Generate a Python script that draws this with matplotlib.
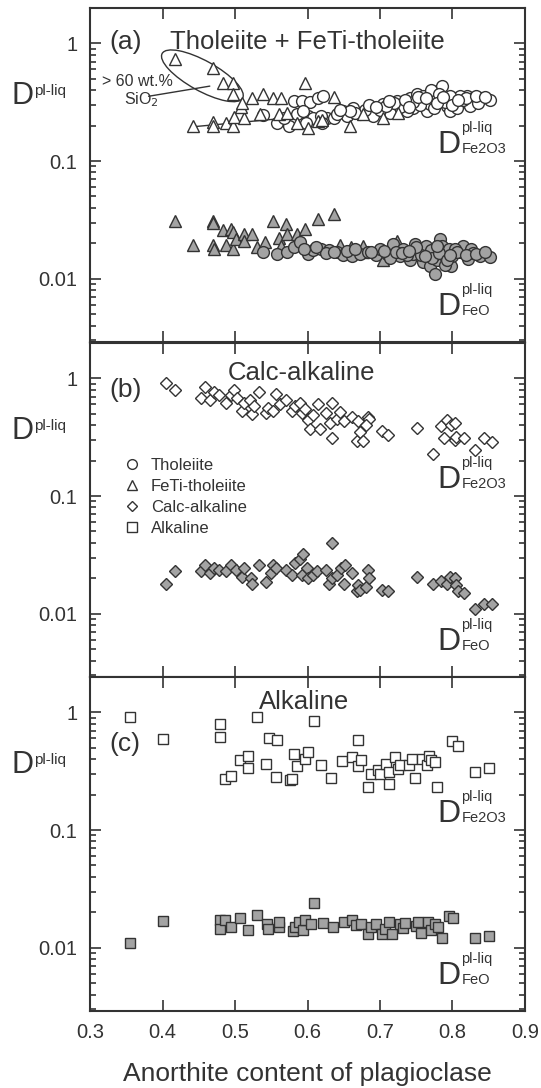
# Plagioclase-melt partition coefficients for Fe2O3 and FeO vs anorthite content
import matplotlib
matplotlib.use("Agg")
import matplotlib.pyplot as plt
import matplotlib.transforms as mtransforms
from matplotlib.patches import Ellipse
from matplotlib.lines import Line2D
from matplotlib.ticker import FixedLocator, FixedFormatter, LogLocator, NullFormatter

plt.rcParams['font.family'] = ['Liberation Sans', 'DejaVu Sans']

# ---- panel (a): tholeiite + FeTi-tholeiite ----
tho_fe2o3_x = [0.538, 0.558, 0.575, 0.581, 0.593, 0.603, 0.614, 0.622, 0.586, 0.601, 0.608, 0.627,
               0.649, 0.663, 0.655, 0.673, 0.691, 0.704, 0.718, 0.724, 0.732, 0.742, 0.751, 0.746,
               0.760, 0.765, 0.773, 0.780, 0.785, 0.783, 0.792, 0.797, 0.803, 0.810, 0.820, 0.828,
               0.840, 0.852, 0.824, 0.806, 0.691, 0.714, 0.737, 0.769, 0.636, 0.618, 0.594, 0.700,
               0.728, 0.755, 0.775, 0.790, 0.815, 0.835, 0.760, 0.745, 0.680, 0.665, 0.640, 0.620,
               0.598, 0.568, 0.770, 0.782, 0.810, 0.797, 0.720, 0.685, 0.708, 0.735, 0.752, 0.778,
               0.800, 0.818, 0.832, 0.845, 0.658, 0.645, 0.695, 0.712, 0.740, 0.763, 0.787, 0.807]
tho_fe2o3_y = [0.247, 0.21, 0.20, 0.326, 0.326, 0.32, 0.345, 0.36, 0.25, 0.24, 0.23, 0.233,
               0.268, 0.28, 0.24, 0.25, 0.28, 0.306, 0.284, 0.326, 0.306, 0.345, 0.373, 0.284,
               0.326, 0.268, 0.345, 0.397, 0.437, 0.326, 0.295, 0.268, 0.345, 0.313, 0.36, 0.34,
               0.34, 0.33, 0.295, 0.284, 0.24, 0.257, 0.268, 0.306, 0.233, 0.24, 0.268, 0.27,
               0.29, 0.30, 0.28, 0.32, 0.33, 0.31, 0.36, 0.32, 0.27, 0.255, 0.25, 0.21,
               0.21, 0.23, 0.40, 0.37, 0.36, 0.36, 0.31, 0.30, 0.295, 0.33, 0.35, 0.31,
               0.30, 0.345, 0.355, 0.35, 0.265, 0.27, 0.29, 0.325, 0.29, 0.34, 0.35, 0.33]

feti_fe2o3_x = [0.442, 0.469, 0.470, 0.488, 0.497, 0.498, 0.512, 0.508, 0.523, 0.510, 0.539, 0.553,
                0.563, 0.597, 0.560, 0.572, 0.600, 0.614, 0.636, 0.659, 0.704, 0.677, 0.725, 0.534,
                0.620, 0.585]
feti_fe2o3_y = [0.20, 0.215, 0.20, 0.21, 0.20, 0.238, 0.233, 0.29, 0.34, 0.31, 0.37, 0.34,
                0.34, 0.46, 0.25, 0.257, 0.19, 0.22, 0.35, 0.20, 0.233, 0.25, 0.257, 0.25,
                0.225, 0.21]
# high-SiO2 (> 60 wt.%) FeTi-tholeiite samples
hisi_fe2o3_x = [0.417, 0.469, 0.484, 0.497, 0.497]
hisi_fe2o3_y = [0.73, 0.62, 0.46, 0.46, 0.37]

feti_feo_x = [0.417, 0.442, 0.469, 0.470, 0.470, 0.471, 0.484, 0.488, 0.495, 0.497, 0.497, 0.501,
              0.512, 0.512, 0.523, 0.531, 0.541, 0.553, 0.560, 0.563, 0.570, 0.572, 0.585, 0.596,
              0.614, 0.637, 0.645, 0.660, 0.677, 0.704, 0.724, 0.677]
feti_feo_y = [0.0307, 0.0195, 0.031, 0.030, 0.0195, 0.018, 0.0257, 0.0195, 0.0267, 0.025, 0.018, 0.0216,
              0.0238, 0.021, 0.0238, 0.0187, 0.0207, 0.031, 0.022, 0.019, 0.029, 0.0238, 0.0238, 0.0267,
              0.032, 0.0352, 0.0195, 0.0185, 0.017, 0.0145, 0.021, 0.0188]

tho_feo_x = [0.538, 0.558, 0.572, 0.581, 0.590, 0.601, 0.608, 0.618, 0.630, 0.641, 0.649, 0.661,
             0.673, 0.683, 0.694, 0.700, 0.710, 0.718, 0.727, 0.732, 0.742, 0.748, 0.753, 0.760,
             0.765, 0.769, 0.776, 0.779, 0.783, 0.785, 0.788, 0.795, 0.798, 0.800, 0.810, 0.815,
             0.822, 0.825, 0.838, 0.852, 0.763, 0.745, 0.714, 0.737, 0.774, 0.790, 0.803, 0.828,
             0.595, 0.625, 0.655, 0.688, 0.722, 0.757, 0.770, 0.612, 0.636, 0.666, 0.705, 0.730,
             0.750, 0.772, 0.781, 0.793, 0.806, 0.818, 0.833, 0.845, 0.740, 0.762, 0.778, 0.796]
tho_feo_y = [0.017, 0.0163, 0.017, 0.0187, 0.0207, 0.0163, 0.0175, 0.018, 0.0175, 0.017, 0.016, 0.0155,
             0.0163, 0.017, 0.016, 0.018, 0.0163, 0.0199, 0.0155, 0.018, 0.0145, 0.0199, 0.0175, 0.0139,
             0.017, 0.0127, 0.0110, 0.0145, 0.0216, 0.019, 0.016, 0.018, 0.0127, 0.0155, 0.017, 0.019,
             0.0148, 0.0178, 0.0155, 0.0152, 0.019, 0.0163, 0.015, 0.016, 0.016, 0.013, 0.018, 0.0165,
             0.018, 0.0165, 0.0172, 0.0168, 0.017, 0.0158, 0.0175, 0.0185, 0.0168, 0.0178, 0.0172, 0.0165,
             0.0185, 0.0150, 0.0165, 0.0145, 0.0168, 0.0158, 0.0162, 0.0170, 0.0172, 0.0155, 0.0190, 0.0160]

# trend line through the panel (a) Fe2O3 data, as drawn in the figure
trend_x = [0.44, 0.85]
trend_y = [0.195, 0.335]

# ---- panel (b): calc-alkaline ----
ca_x = [0.405, 0.417, 0.453, 0.458, 0.465, 0.471, 0.478, 0.488, 0.494, 0.498, 0.503, 0.510,
        0.513, 0.521, 0.524, 0.526, 0.533, 0.543, 0.545, 0.553, 0.556, 0.562, 0.571, 0.578,
        0.583, 0.589, 0.592, 0.596, 0.601, 0.604, 0.608, 0.614, 0.617, 0.626, 0.631, 0.634,
        0.634, 0.640, 0.645, 0.650, 0.661, 0.668, 0.670, 0.673, 0.677, 0.684, 0.685, 0.681,
        0.703, 0.711, 0.751, 0.773, 0.784, 0.788, 0.792, 0.798, 0.803, 0.803, 0.805, 0.816,
        0.831, 0.843, 0.855]
ca_fe2o3 = [0.905, 0.79, 0.675, 0.84, 0.66, 0.76, 0.72, 0.62, 0.72, 0.79, 0.68, 0.53,
            0.62, 0.65, 0.50, 0.58, 0.76, 0.51, 0.56, 0.53, 0.74, 0.61, 0.66, 0.53,
            0.58, 0.62, 0.51, 0.55, 0.44, 0.37, 0.49, 0.61, 0.37, 0.51, 0.42, 0.62,
            0.31, 0.45, 0.52, 0.43, 0.47, 0.295, 0.43, 0.35, 0.295, 0.47, 0.45, 0.40,
            0.36, 0.33, 0.38, 0.229, 0.39, 0.31, 0.44, 0.40, 0.42, 0.30, 0.32, 0.31,
            0.247, 0.31, 0.29]
ca_feo_x = [0.405, 0.417, 0.453, 0.458, 0.465, 0.471, 0.478, 0.488, 0.494, 0.502, 0.510, 0.513,
            0.522, 0.524, 0.533, 0.543, 0.549, 0.553, 0.556, 0.570, 0.578, 0.583, 0.589, 0.592,
            0.594, 0.599, 0.601, 0.608, 0.613, 0.626, 0.629, 0.634, 0.634, 0.640, 0.646, 0.652,
            0.650, 0.661, 0.668, 0.670, 0.673, 0.681, 0.684, 0.685, 0.703, 0.711, 0.751, 0.773,
            0.784, 0.792, 0.796, 0.803, 0.805, 0.808, 0.816, 0.831, 0.843, 0.855]
ca_feo = [0.018, 0.0229, 0.0229, 0.0257, 0.0222, 0.0243, 0.0236, 0.0229, 0.0257, 0.0236, 0.0207, 0.0243,
          0.020, 0.018, 0.0257, 0.0186, 0.0222, 0.0257, 0.0243, 0.0236, 0.0214, 0.027, 0.029, 0.0214,
          0.0319, 0.0243, 0.020, 0.0214, 0.023, 0.0236, 0.018, 0.0398, 0.020, 0.0214, 0.0243, 0.026,
          0.018, 0.0222, 0.0155, 0.0175, 0.016, 0.017, 0.0236, 0.020, 0.016, 0.0155, 0.0207, 0.018,
          0.019, 0.018, 0.0207, 0.020, 0.0175, 0.0155, 0.0150, 0.0110, 0.0122, 0.012]

# ---- panel (c): alkaline ----
alk_fe2o3_x = [0.355, 0.400, 0.479, 0.479, 0.530, 0.547, 0.558, 0.609, 0.670, 0.800, 0.808, 0.486,
               0.494, 0.507, 0.518, 0.518, 0.543, 0.557, 0.576, 0.579, 0.582, 0.586, 0.596, 0.601,
               0.619, 0.633, 0.648, 0.662, 0.669, 0.674, 0.684, 0.688, 0.697, 0.700, 0.708, 0.712,
               0.712, 0.721, 0.725, 0.728, 0.740, 0.744, 0.748, 0.758, 0.765, 0.767, 0.771, 0.776,
               0.778, 0.831, 0.851]
alk_fe2o3_y = [0.91, 0.59, 0.80, 0.62, 0.92, 0.60, 0.585, 0.85, 0.585, 0.57, 0.52, 0.273,
               0.29, 0.39, 0.43, 0.34, 0.365, 0.28, 0.265, 0.27, 0.44, 0.35, 0.40, 0.46,
               0.36, 0.275, 0.385, 0.42, 0.35, 0.39, 0.233, 0.30, 0.325, 0.30, 0.365, 0.31,
               0.246, 0.42, 0.33, 0.36, 0.36, 0.40, 0.275, 0.40, 0.355, 0.43, 0.39, 0.375,
               0.23, 0.31, 0.34]
alk_feo_x = [0.355, 0.400, 0.479, 0.479, 0.486, 0.494, 0.507, 0.518, 0.530, 0.544, 0.545, 0.560,
             0.561, 0.580, 0.583, 0.588, 0.594, 0.597, 0.605, 0.609, 0.622, 0.635, 0.650, 0.662,
             0.667, 0.674, 0.683, 0.688, 0.695, 0.703, 0.707, 0.712, 0.716, 0.727, 0.732, 0.735,
             0.749, 0.752, 0.757, 0.766, 0.770, 0.776, 0.780, 0.785, 0.795, 0.801, 0.831, 0.850]
alk_feo_y = [0.0110, 0.017, 0.0173, 0.0143, 0.0172, 0.015, 0.0178, 0.0142, 0.019, 0.016, 0.0143, 0.015,
             0.0165, 0.0139, 0.015, 0.0165, 0.0142, 0.0172, 0.016, 0.0238, 0.0163, 0.015, 0.0165, 0.0172,
             0.0155, 0.016, 0.013, 0.015, 0.016, 0.013, 0.0143, 0.0165, 0.013, 0.016, 0.0147, 0.0163,
             0.0153, 0.0165, 0.0133, 0.0165, 0.0142, 0.016, 0.015, 0.012, 0.0186, 0.0178, 0.012, 0.0125]

legend_labels = ['Tholeiite', 'FeTi-tholeiite', 'Calc-alkaline', 'Alkaline']

EDGE = '#333333'
FILL = '#a3a3a3'
TXT = '#333333'

fig = plt.figure(figsize=(5.41, 10.88), dpi=100)
L, W, H = 0.1664, 0.804, 0.307
ax_a = fig.add_axes([L, 0.6857, W, H])
ax_b = fig.add_axes([L, 0.3778, W, H])
ax_c = fig.add_axes([L, 0.0708, W, H])
axes = [ax_a, ax_b, ax_c]


def open_pts(ax, x, y, marker, ms):
    ax.plot(x, y, ls='none', marker=marker, ms=ms, mfc='white', mec=EDGE, mew=1.0, zorder=3)


def filled_pts(ax, x, y, marker, ms):
    ax.plot(x, y, ls='none', marker=marker, ms=ms, mfc=FILL, mec=EDGE, mew=1.0, zorder=3)


def d_label(ax, x, y, sup, sub=None, big=23, small=10.5):
    # big "D" with a superscript and (optional) subscript
    ax.text(x, y, 'D', transform=ax.transAxes, fontsize=big, color=TXT, ha='left', va='center')
    ax.annotate(sup, xy=(x, y), xycoords='axes fraction', xytext=(17.5, 12), textcoords='offset points',
                fontsize=small, color=TXT, ha='left', va='center')
    if sub:
        ax.annotate(sub, xy=(x, y), xycoords='axes fraction', xytext=(17.5, -3), textcoords='offset points',
                    fontsize=small, color=TXT, ha='left', va='center')


# panel a
ax_a.plot(trend_x, trend_y, color=EDGE, lw=1.0, zorder=2)
open_pts(ax_a, tho_fe2o3_x, tho_fe2o3_y, 'o', 8.5)
open_pts(ax_a, feti_fe2o3_x, feti_fe2o3_y, '^', 9)
open_pts(ax_a, hisi_fe2o3_x, hisi_fe2o3_y, '^', 9)
filled_pts(ax_a, feti_feo_x, feti_feo_y, '^', 9)
filled_pts(ax_a, tho_feo_x, tho_feo_y, 'o', 8.5)

# ellipse around the high-SiO2 samples
etrans = fig.dpi_scale_trans + mtransforms.ScaledTranslation(0.455, 0.53, ax_a.transData)
ax_a.add_patch(Ellipse((0, 0), width=0.92, height=0.30, angle=-29, transform=etrans,
                       fill=False, ec=EDGE, lw=1.0, zorder=2))
ax_a.annotate('', xy=(0.469, 0.437), xytext=(0.377, 0.352),
              arrowprops=dict(arrowstyle='-', color=EDGE, lw=1.0))
ax_a.text(0.316, 0.47, '> 60 wt.%', fontsize=11.5, color=TXT, ha='left', va='center')
ax_a.text(0.347, 0.33, 'SiO$_2$', fontsize=11.5, color=TXT, ha='left', va='center')

# panel b
open_pts(ax_b, ca_x, ca_fe2o3, 'D', 6.5)
filled_pts(ax_b, ca_feo_x, ca_feo, 'D', 6.5)

# panel c
open_pts(ax_c, alk_fe2o3_x, alk_fe2o3_y, 's', 7.5)
filled_pts(ax_c, alk_feo_x, alk_feo_y, 's', 7.5)

panel_tags = ['(a)', '(b)', '(c)']
panel_titles = ['Tholeiite + FeTi-tholeiite', 'Calc-alkaline', 'Alkaline']
tag_y = [0.897, 0.86, 0.80]
title_x = [0.50, 0.486, 0.493]
title_y = [0.897, 0.91, 0.925]

for i, ax in enumerate(axes):
    ax.set_xlim(0.3, 0.9)
    ax.set_yscale('log')
    ax.set_ylim(0.0029, 2.0)
    ax.xaxis.set_major_locator(FixedLocator([0.3, 0.4, 0.5, 0.6, 0.7, 0.8, 0.9]))
    ax.yaxis.set_major_locator(FixedLocator([0.01, 0.1, 1]))
    ax.yaxis.set_major_formatter(FixedFormatter(['0.01', '0.1', '1']))
    ax.yaxis.set_minor_locator(LogLocator(base=10, subs=[2, 3, 4, 5, 6, 7, 8, 9]))
    ax.yaxis.set_minor_formatter(NullFormatter())
    ax.tick_params(axis='both', which='both', direction='in', top=True, right=True,
                   labelsize=14.5, labelcolor=TXT, color=EDGE, width=1.2)
    ax.tick_params(axis='both', which='major', length=8, pad=9)
    ax.tick_params(axis='y', which='minor', length=4)
    for sp in ax.spines.values():
        sp.set_linewidth(1.5)
        sp.set_color(EDGE)
    if ax is not ax_c:
        ax.tick_params(axis='x', labelbottom=False)

    ax.text(0.045, tag_y[i], panel_tags[i], transform=ax.transAxes, fontsize=19, color=TXT,
            ha='left', va='center')
    ax.text(title_x[i], title_y[i], panel_titles[i], transform=ax.transAxes, fontsize=18.5,
            color=TXT, ha='center', va='center')

    # axis label on the left: D with superscript pl-liq
    ax.text(-0.18, 0.735, 'D', transform=ax.transAxes, fontsize=22, color=TXT, ha='left', va='center')
    ax.text(-0.128, 0.752, 'pl-liq', transform=ax.transAxes, fontsize=11, color=TXT,
            ha='left', va='center')

    d_label(ax, 0.798, 0.59, 'pl-liq', 'Fe2O3')
    d_label(ax, 0.798, 0.105, 'pl-liq', 'FeO')

# legend in panel b
handles = [Line2D([], [], ls='none', marker=m, ms=s, mfc='white', mec=EDGE, mew=1.0)
           for m, s in zip(['o', '^', 'D', 's'], [7, 7.5, 5.5, 6.5])]
ax_b.legend(handles, legend_labels, loc='upper left', bbox_to_anchor=(0.063, 0.675), frameon=False,
            fontsize=12, labelcolor=TXT, handlelength=1.0, handletextpad=0.6, labelspacing=0.35,
            borderaxespad=0)

ax_c.set_xlabel('Anorthite content of plagioclase', fontsize=19, color=TXT, labelpad=14)

fig.savefig('out.png', dpi=100)
